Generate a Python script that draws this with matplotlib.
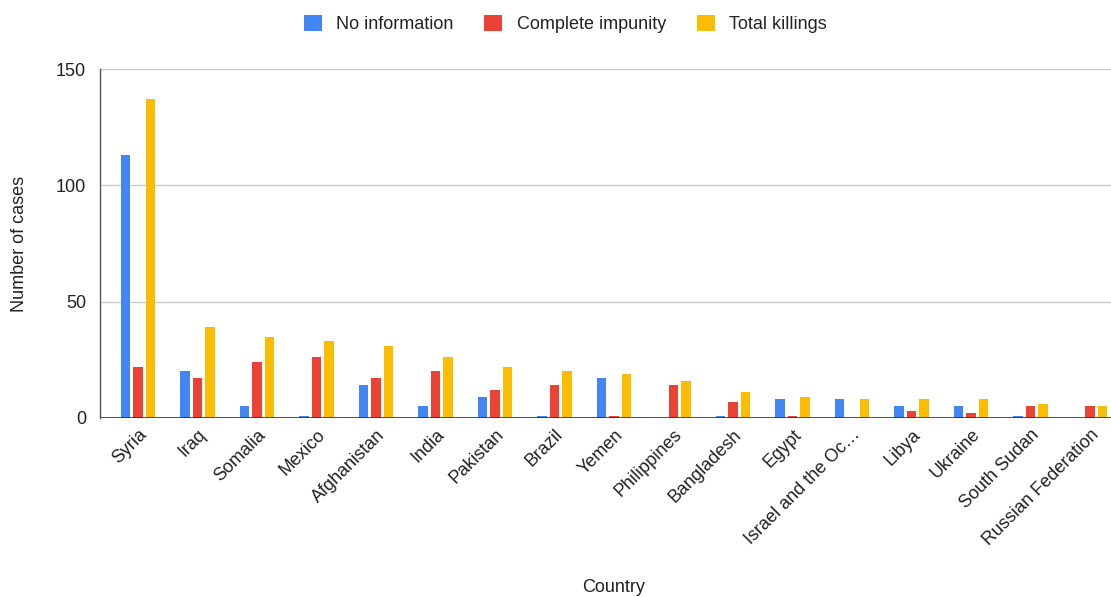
import numpy as np
import matplotlib
matplotlib.use('Agg')
import matplotlib.pyplot as plt

# Data
countries = ['Syria', 'Iraq', 'Somalia', 'Mexico', 'Afghanistan', 'India', 'Pakistan',
             'Brazil', 'Yemen', 'Philippines', 'Bangladesh', 'Egypt',
             'Israel and the Oc\u2026', 'Libya', 'Ukraine', 'South Sudan', 'Russian Federation']
no_information = [113, 20, 5, 1, 14, 5, 9, 1, 17, 0, 1, 8, 8, 5, 5, 1, 0]
complete_impunity = [22, 17, 24, 26, 17, 20, 12, 14, 1, 14, 7, 1, 0, 3, 2, 5, 5]
total_killings = [137, 39, 35, 33, 31, 26, 22, 20, 19, 16, 11, 9, 8, 8, 8, 6, 5]
yticks = [0, 50, 100, 150]

plt.rcParams['font.family'] = ['Liberation Sans', 'DejaVu Sans']
txt = '#222222'

fig = plt.figure(figsize=(11.11, 5.97), dpi=100)
ax = fig.add_axes([0.09, 0.30, 0.91, 0.584])

x = np.arange(len(countries))
w = 0.16
off = 0.21
ax.bar(x - off, no_information, w, color='#4285F4', label='No information', zorder=3)
ax.bar(x, complete_impunity, w, color='#EA4335', label='Complete impunity', zorder=3)
ax.bar(x + off, total_killings, w, color='#FBBC04', label='Total killings', zorder=3)

ax.set_xlim(-0.64, 16.35)
ax.set_ylim(0, 150)
ax.set_yticks(yticks)
ax.yaxis.grid(True, color='#cccccc', linewidth=1, zorder=0)
ax.axhline(0, color='#333333', linewidth=1.2, zorder=4)
for s in ax.spines.values():
    s.set_visible(False)
ax.spines['left'].set_visible(True)
ax.spines['left'].set_color('#555555')
ax.spines['left'].set_linewidth(1.0)
ax.tick_params(length=0, labelsize=13, colors=txt)
ax.tick_params(axis='y', pad=10)
ax.tick_params(axis='x', pad=6)
ax.set_xticks(x)
ax.set_xticklabels(countries, rotation=45, ha='right', rotation_mode='anchor')

ax.set_ylabel('Number of cases', fontsize=13, color=txt, labelpad=20)
fig.text(0.552, 0.008, 'Country', ha='center', fontsize=13, color=txt)

fig.legend(loc='upper center', bbox_to_anchor=(0.509, 1.002), ncol=3, frameon=False,
           fontsize=13, handlelength=1.0, handleheight=1.0, columnspacing=1.7,
           handletextpad=0.8, labelcolor=txt)

fig.savefig('out.png', dpi=100)
